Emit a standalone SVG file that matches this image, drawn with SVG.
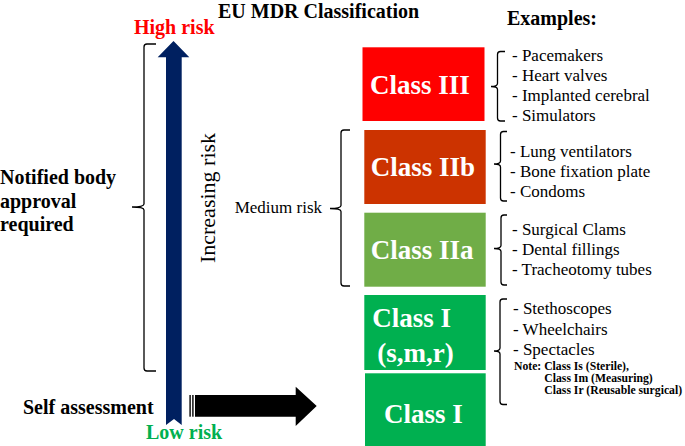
<svg xmlns="http://www.w3.org/2000/svg" width="685" height="446" viewBox="0 0 685 446">
<style>
.t{font-family:"Liberation Serif","Times New Roman",serif;}
.b{font-weight:bold;}
.lbl{font-family:"Liberation Serif","Times New Roman",serif;font-weight:bold;font-size:27px;fill:#fff;}
.ex{font-family:"Liberation Serif","Times New Roman",serif;font-size:17px;fill:#000;}
.note{font-family:"Liberation Serif","Times New Roman",serif;font-weight:bold;font-size:11.7px;fill:#000;}
.brace{fill:none;stroke:#000;stroke-width:1.3;}
</style>
<rect width="685" height="446" fill="#fff"/>

<text class="t b" x="218" y="18" font-size="20">EU MDR Classification</text>
<text class="t b" x="507" y="25" font-size="20">Examples:</text>
<text class="t b" x="134" y="33.5" font-size="20" fill="#FF0000">High risk</text>
<text class="t b" x="146" y="438.5" font-size="20" fill="#00B050">Low risk</text>
<text class="t b" x="23" y="413.5" font-size="20">Self assessment</text>
<g id="notified">
<text class="t b" x="0" y="184" font-size="20">Notified body</text>
<text class="t b" x="0" y="207.5" font-size="20">approval</text>
<text class="t b" x="0" y="231" font-size="20">required</text>
</g>
<text class="t" x="322" y="213" font-size="17" text-anchor="end">Medium risk</text>
<text class="t" font-size="22" text-anchor="middle" transform="translate(214.5,198) rotate(-90)">Increasing risk</text>

<g id="risk-arrow">
<path d="M173.5,41 L189.3,57.3 L181.7,57.3 L181.7,425 L174,419 L166,425 L166,57.3 L157.7,57.3 Z" fill="#002060"/>
</g>
<g id="self-arrow">
<rect x="189.4" y="395" width="1.4" height="21.7" fill="#000"/>
<rect x="192.2" y="395" width="1.4" height="21.7" fill="#000"/>
<path d="M195,395 L295.7,395 L295.7,386.7 L316.7,406 L295.7,426 L295.7,416.7 L195,416.7 Z" fill="#000"/>
</g>

<g id="class-III">
<rect x="362.5" y="47.3" width="122" height="73.7" fill="#FF0000"/>
<text class="lbl" x="370" y="94.3">Class III</text>
</g>
<g id="class-IIb">
<rect x="364.3" y="130" width="121.4" height="74" fill="#CC3300"/>
<text class="lbl" x="370.7" y="176">Class IIb</text>
</g>
<g id="class-IIa">
<rect x="364.3" y="212.7" width="121.4" height="74" fill="#70AD47"/>
<text class="lbl" x="370.7" y="259.3">Class IIa</text>
</g>
<g id="class-Ismr">
<rect x="364.3" y="295" width="121.4" height="75" fill="#00B050"/>
<text class="lbl" x="372.3" y="327.3">Class I</text>
<text class="lbl" x="377.3" y="361.7">(s,m,r)</text>
</g>
<g id="class-I">
<rect x="365" y="373.3" width="120.7" height="72.7" fill="#00B050"/>
<text class="lbl" x="384" y="422.7">Class I</text>
</g>

<g id="connectors">
<path class="brace" d="M156,44 H147 Q144,44 144,47 V204 Q144,207 132,207 Q144,207 144,210 V368 Q144,371 147,371 H156"/>
<path class="brace" d="M350,130 H344 Q341,130 341,133 V205.5 Q341,208.5 330,208.5 Q341,208.5 341,211.5 V283 Q341,286 344,286 H350"/>
<path class="brace" d="M505,51.5 H500.5 Q497.5,51.5 497.5,54.5 V83.5 Q497.5,86.5 491,86.5 Q497.5,86.5 497.5,89.5 V118 Q497.5,121 500.5,121 H505"/>
<path class="brace" d="M507,131.5 H503.5 Q500.5,131.5 500.5,134.5 V161 Q500.5,164 494,164 Q500.5,164 500.5,167 V198 Q500.5,201 503.5,201 H507"/>
<path class="brace" d="M507,215 H504 Q501,215 501,218 V245.5 Q501,248.5 494,248.5 Q501,248.5 501,251.5 V282 Q501,285 504,285 H507"/>
<path class="brace" d="M507,299 H503 Q500,299 500,302 V348 Q500,351 494,351 Q500,351 500,354 V401.5 Q500,404.5 503,404.5 H507"/>
</g>

<g id="examples-III">
<text class="ex" x="512" y="61">- Pacemakers</text>
<text class="ex" x="512" y="81">- Heart valves</text>
<text class="ex" x="512" y="101">- Implanted cerebral</text>
<text class="ex" x="512" y="121">- Simulators</text>
</g>
<g id="examples-IIb">
<text class="ex" x="510" y="156.5">- Lung ventilators</text>
<text class="ex" x="510" y="176.5">- Bone fixation plate</text>
<text class="ex" x="510" y="196.5">- Condoms</text>
</g>
<g id="examples-IIa">
<text class="ex" x="512" y="234.5">- Surgical Clams</text>
<text class="ex" x="512" y="254.5">- Dental fillings</text>
<text class="ex" x="512" y="275">- Tracheotomy tubes</text>
</g>
<g id="examples-I">
<text class="ex" x="513" y="314">- Stethoscopes</text>
<text class="ex" x="513" y="334.5">- Wheelchairs</text>
<text class="ex" x="513" y="355">- Spectacles</text>
<text class="note" x="514" y="370">Note: Class Is (Sterile),</text>
<text class="note" x="544.3" y="381.8">Class Im (Measuring)</text>
<text class="note" x="544.3" y="393.5">Class Ir (Reusable surgical)</text>
</g>
</svg>
